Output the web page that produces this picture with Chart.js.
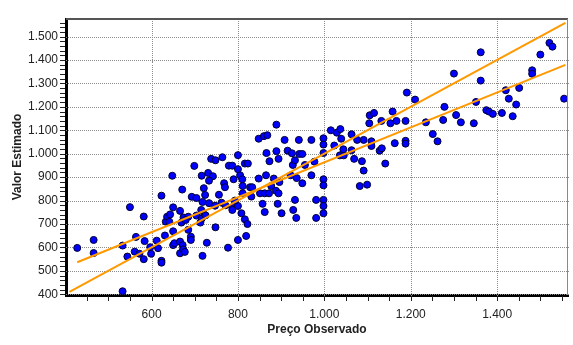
<!DOCTYPE html>
<html>
<head>
<meta charset="utf-8">
<script src="https://cdn.jsdelivr.net/npm/chart.js@4/dist/chart.umd.min.js"></script>
<style>
  html, body { margin: 0; padding: 0; background: #fff; }
  #wrap { width: 573px; height: 345px; }
</style>
</head>
<body>
<div id="wrap"><canvas id="canvas" width="573" height="345"></canvas></div>
<script>
const observado = [
  428, 466, 466, 533, 533, 544, 550, 561, 564, 572, 582, 582, 584, 597, 599, 612, 615, 623, 623, 623,
  631, 633, 636, 641, 643, 648, 650, 650, 650, 653, 666, 669, 671, 674, 666, 666, 672, 673, 677, 685,
  685, 691, 691, 693, 704, 704, 699,
  716, 731, 738, 748, 764, 742, 779, 787, 790, 800, 800, 805, 810, 816, 823, 848, 860, 868, 866, 873,
  865, 848, 883, 889, 889, 894, 908, 915, 925, 927, 932, 922, 936, 949, 941, 942, 949, 955, 970, 977,
  970, 998, 998, 998, 998, 998,
  721, 733, 724, 718, 733, 715, 722, 713, 728, 718, 748, 747, 756, 762, 768, 770, 771, 777, 787, 793,
  800, 800, 811, 811, 808, 816, 822, 819, 828, 833, 831, 857, 862, 851, 862, 872, 877, 888, 894, 892,
  901, 896, 928, 932, 935, 981, 981, 998, 998, 998, 716, 725, 679, 793, 787,
  1015, 1023, 1029, 1037, 1039, 1036, 1045, 1044, 1063, 1063, 1069, 1076, 1091, 1087, 1091, 1105, 1115, 1104, 1109, 1109,
  1132, 1128, 1133, 1141, 1082, 1099,
  1153, 1158, 1167, 1188, 1191, 1210, 1235, 1251, 1262, 1278, 1275, 1300, 1305, 1316, 1346, 1351, 1362, 1362, 1375, 1381,
  1390, 1411, 1420, 1427, 1436, 1444, 1451, 1481, 1481, 1500, 1521, 1528, 1555, 1163, 1188, 1188
];
const estimado = [
  598, 632, 576, 608, 413, 561, 772, 582, 645, 573, 732, 550, 627, 601, 573, 629, 597, 821, 543, 535,
  651, 710, 731, 710, 741, 906, 771, 669, 610, 618, 756, 706, 847, 728, 625, 575, 610, 592, 581, 731,
  675, 646, 632, 816, 811, 736, 948,
  906, 918, 978, 972, 985, 904, 949, 949, 891, 994, 934, 908, 891, 958, 958, 1064, 1075, 1079, 1003, 968,
  908, 894, 894, 1124, 1011, 978, 1059, 1013, 1002, 952, 972, 908, 896, 874, 1059, 999, 999, 952, 1059, 966,
  908, 1066, 1039, 1003, 891, 865,
  853, 885, 824, 794, 789, 760, 740, 706, 620, 564, 686, 778, 825, 791, 874, 857, 780, 599, 771, 786,
  632, 777, 862, 831, 746, 720, 700, 649, 857, 857, 817, 786, 751, 831, 831, 831, 862, 842, 831, 786,
  746, 879, 760, 803, 726, 803, 726, 803, 777, 746, 723, 737, 717, 800, 760,
  1100, 1035, 1090, 1105, 1064, 993, 993, 1019, 1083, 1015, 978, 1059, 1059, 968, 928, 1164, 1174, 1130, 1053, 1033,
  1140, 1013, 1023, 958, 862, 868,
  1130, 1180, 1140, 1140, 1261, 1231, 1134, 1084, 1053, 1200, 1144, 1342, 1165, 1134, 1130, 1221, 1433, 1312, 1186, 1180,
  1170, 1174, 1271, 1235, 1160, 1210, 1281, 1356, 1341, 1423, 1473, 1457, 1235, 1045, 1055, 1043
];

// the two orange lines: 45 degree line and the fitted line
const linhaIgualX = [410, 1558];
const linhaIgualY = [410, 1558];
const linhaAjusteX = [428, 1558];
const linhaAjusteY = [537, 1379];

// minor tick positions; every 200 (x) / 100 (y) gets a label and a grid line
const xTicks = [];
for (let v = 450; v <= 1550; v += 50) xTicks.push(v);
const yTicks = [];
for (let v = 400; v <= 1560; v += 20) yTicks.push(v);

function fmt(v) {
  if (v >= 1000) return Math.floor(v / 1000) + '.' + String(v % 1000).padStart(3, '0');
  return String(v);
}

const pontos = observado.map((x, i) => ({ x: x, y: estimado[i] }));
const pares = (xs, ys) => xs.map((x, i) => ({ x: x, y: ys[i] }));

// one straight stroke, dotted if asked
function traco(c, x1, y1, x2, y2, pontilhado) {
  if (!pontilhado) {
    c.beginPath(); c.moveTo(x1, y1); c.lineTo(x2, y2); c.stroke();
    return;
  }
  // dots every 2px
  const n = Math.max(Math.abs(x2 - x1), Math.abs(y2 - y1));
  for (let k = 0; k <= n; k += 2) {
    const t = k / n;
    c.fillRect(Math.round(x1 + (x2 - x1) * t - 0.5), Math.round(y1 + (y2 - y1) * t - 0.5), 1, 1);
  }
}

// dotted grid + small tick marks, placed with the chart's own scales
const grade = {
  id: 'grade',
  beforeDatasetsDraw(chart) {
    const a = chart.chartArea;
    const sx = chart.scales.x, sy = chart.scales.y;
    const c = chart.ctx;
    try {
      c.save();
      c.fillStyle = '#8c8c8c';
      xTicks.filter(v => v % 200 === 0).forEach(v => {
        const px = Math.round(sx.getPixelForValue(v)) + 0.5;
        traco(c, px, a.top, px, a.bottom, true);
      });
      yTicks.filter(v => v % 100 === 0).forEach(v => {
        const py = Math.round(sy.getPixelForValue(v)) + 0.5;
        traco(c, a.left, py, a.right, py, true);
      });
      c.restore();
    } catch (e) {
      c.fillStyle = 'red';
      c.font = '10px sans-serif';
      c.fillText(String(e), 70, 12);
    }
  },
  afterDraw(chart) {
    const a = chart.chartArea;
    const sx = chart.scales.x, sy = chart.scales.y;
    const c = chart.ctx;
    c.save();
    // gray frame on top and right of the plot area
    c.strokeStyle = '#555';
    c.lineWidth = 2;
    traco(c, a.left, a.top, a.right, a.top, false);
    c.lineWidth = 1;
    c.strokeStyle = '#888';
    traco(c, a.right - 0.5, a.top, a.right - 0.5, a.bottom, false);
    // tick marks below / left of the black axes
    c.fillStyle = '#222';
    xTicks.forEach(v => {
      const px = Math.round(sx.getPixelForValue(v));
      c.fillRect(px, a.bottom + 1, 1, 5);
    });
    yTicks.forEach(v => {
      const py = Math.round(sy.getPixelForValue(v));
      c.fillRect(a.left - 6, py, 5, 1);
    });
    c.restore();
  }
};

Chart.defaults.font.family = '"Liberation Sans", Arial, sans-serif';
Chart.defaults.font.size = 12;
Chart.defaults.color = '#222';

const ctx = document.getElementById('canvas').getContext('2d');
new Chart(ctx, {
  type: 'scatter',
  data: {
    datasets: [
      {
        label: 'Igualdade',
        type: 'line',
        data: pares(linhaIgualX, linhaIgualY),
        borderColor: '#FF9900',
        borderWidth: 2,
        pointRadius: 0,
        fill: false,
        order: 0
      },
      {
        label: 'Ajuste',
        type: 'line',
        data: pares(linhaAjusteX, linhaAjusteY),
        borderColor: '#FF9900',
        borderWidth: 2,
        pointRadius: 0,
        fill: false,
        order: 0
      },
      {
        label: 'Amostra',
        data: pontos,
        backgroundColor: '#0000FF',
        borderColor: '#000033',
        borderWidth: 1,
        pointRadius: 3.5,
        order: 1
      }
    ]
  },
  options: {
    responsive: false,
    animation: false,
    layout: { padding: { top: 19, right: 1, left: 0, bottom: 0 } },
    plugins: { legend: { display: false }, tooltip: { enabled: false } },
    scales: {
      x: {
        type: 'linear',
        min: 402,
        max: 1564,
        afterBuildTicks: (s) => { s.ticks = xTicks.map(v => ({ value: v })); },
        afterFit: (s) => { s.height = 50; },
        ticks: {
          autoSkip: false,
          maxRotation: 0,
          padding: 7,
          color: '#222',
          font: { size: 12 },
          callback: (v) => (v % 200 === 0 ? fmt(v) : '')
        },
        grid: { display: false, drawTicks: true, tickLength: 5 },
        border: { display: true, color: '#000', width: 3 },
        title: {
          display: true,
          text: 'Preço Observado',
          font: { size: 12, weight: 'bold' },
          color: '#222',
          padding: { top: 0, bottom: 8 }
        }
      },
      y: {
        type: 'linear',
        min: 397,
        max: 1575,
        afterBuildTicks: (s) => { s.ticks = yTicks.map(v => ({ value: v })); },
        afterFit: (s) => { s.width = 66; },
        ticks: {
          autoSkip: false,
          padding: 3,
          color: '#222',
          font: { size: 12 },
          callback: (v) => (v % 100 === 0 ? fmt(v) : '')
        },
        grid: { display: false, drawTicks: true, tickLength: 5 },
        border: { display: true, color: '#000', width: 3 },
        title: {
          display: true,
          text: 'Valor Estimado',
          font: { size: 12, weight: 'bold' },
          color: '#222',
          padding: { top: 10, bottom: 0 }
        }
      }
    }
  },
  plugins: [grade]
});
</script>
</body>
</html>
